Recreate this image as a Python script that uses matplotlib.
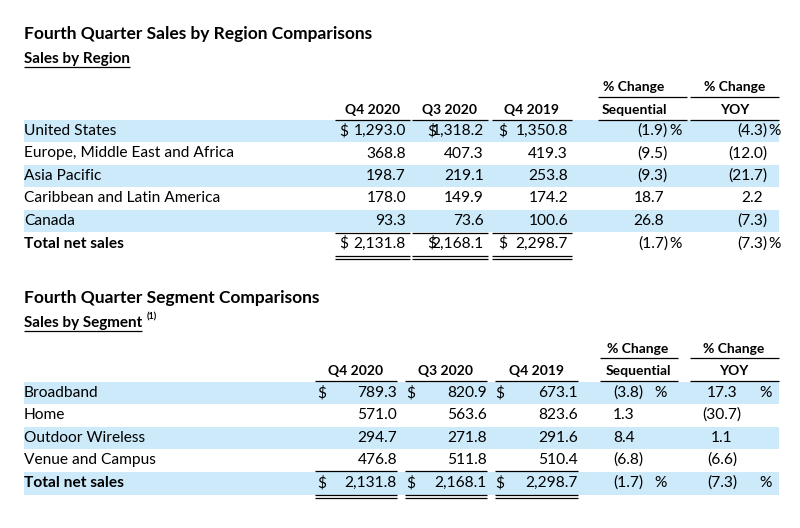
import matplotlib
matplotlib.use("Agg")
import matplotlib.pyplot as plt
from matplotlib.patches import Rectangle

plt.rcParams['font.family'] = ['Lato', 'DejaVu Sans']

# ---- data ----
region_names = ["United States", "Europe, Middle East and Africa", "Asia Pacific",
                "Caribbean and Latin America", "Canada"]
region_q4_2020 = ["1,293.0", "368.8", "198.7", "178.0", "93.3"]
region_q3_2020 = ["1,318.2", "407.3", "219.1", "149.9", "73.6"]
region_q4_2019 = ["1,350.8", "419.3", "253.8", "174.2", "100.6"]
region_seq = ["(1.9)", "(9.5)", "(9.3)", "18.7", "26.8"]
region_yoy = ["(4.3)", "(12.0)", "(21.7)", "2.2", "(7.3)"]
region_total = ["2,131.8", "2,168.1", "2,298.7", "(1.7)", "(7.3)"]

segment_names = ["Broadband", "Home", "Outdoor Wireless", "Venue and Campus"]
segment_q4_2020 = ["789.3", "571.0", "294.7", "476.8"]
segment_q3_2020 = ["820.9", "563.6", "271.8", "511.8"]
segment_q4_2019 = ["673.1", "823.6", "291.6", "510.4"]
segment_seq = ["(3.8)", "1.3", "8.4", "(6.8)"]
segment_yoy = ["17.3", "(30.7)", "1.1", "(6.6)"]
segment_total = ["2,131.8", "2,168.1", "2,298.7", "(1.7)", "(7.3)"]

col_heads = ["Q4 2020", "Q3 2020", "Q4 2019"]

BLUE = "#cdeafa"
FS = 11.2

fig = plt.figure(figsize=(8, 5.28), dpi=100)
ax = fig.add_axes([0, 0, 1, 1])
ax.set_xlim(0, 800)
ax.set_ylim(528, 0)
ax.axis("off")
renderer = fig.canvas.get_renderer()


def t(x, y, s, ha="left", bold=False, size=FS):
    return ax.text(x, y, s, ha=ha, va="center", fontsize=size,
                   fontweight="bold" if bold else "normal", color="black")


def hline(x0, x1, y, lw=0.9):
    ax.plot([x0, x1], [y, y], color="black", lw=lw, solid_capstyle="butt")


def text_right(txt):
    bb = txt.get_window_extent(renderer)
    return ax.transData.inverted().transform((bb.x1, bb.y0))[0]


def shade(y, h=22):
    ax.add_patch(Rectangle((24, y - h / 2), 755, h, color=BLUE, lw=0, zorder=0))


# ---------------- Region table ----------------
t(24, 34, "Fourth Quarter Sales by Region Comparisons", bold=True, size=12.5)
sub = t(24, 59, "Sales by Region", bold=True, size=11)
hline(24, text_right(sub), 67)

num_right = [406, 484, 568]
dollar_x = [339, 427, 498]
head_span = [(335, 410), (412, 488), (492, 572)]
for (a, b), h in zip(head_span, col_heads):
    t((a + b) / 2, 110, h, ha="center", bold=True, size=10)
    hline(a, b, 120)
t(634, 87, "% Change", ha="center", bold=True, size=10)
hline(598, 687, 97)
t(634, 110, "Sequential", ha="center", bold=True, size=10)
hline(598, 687, 120)
t(735, 87, "% Change", ha="center", bold=True, size=10)
hline(690, 779, 97)
t(735, 110, "YOY", ha="center", bold=True, size=10)
hline(690, 779, 120)

row_y = [131, 153.5, 176, 198.5, 221]
for i, y in enumerate(row_y):
    if i % 2 == 0:
        shade(y)
    t(24, y, region_names[i])
    for c, vals in enumerate([region_q4_2020, region_q3_2020, region_q4_2019]):
        t(num_right[c], y, vals[i], ha="right")
        if i == 0:
            t(dollar_x[c], y, "$")
    s = region_seq[i]
    t(668 if s.startswith("(") else 664, y, s, ha="right")
    s = region_yoy[i]
    t(767 if s.startswith("(") else 763, y, s, ha="right")
    if i == 0:
        t(669, y, "%")
        t(768, y, "%")

ty = 243.5
for a, b in head_span:
    hline(a, b, 233)
    hline(a, b, 256)
    hline(a, b, 259)
t(24, ty, "Total net sales", bold=True)
for c in range(3):
    t(num_right[c], ty, region_total[c], ha="right")
    t(dollar_x[c], ty, "$")
t(668, ty, region_total[3], ha="right")
t(669, ty, "%")
t(767, ty, region_total[4], ha="right")
t(768, ty, "%")

# ---------------- Segment table ----------------
t(24, 298, "Fourth Quarter Segment Comparisons", bold=True, size=12.5)
sub2 = t(24, 323, "Sales by Segment", bold=True, size=11)
r2 = text_right(sub2)
hline(24, r2, 331)
t(r2 + 4, 317, "(1)", bold=True, size=6.5)

num_right2 = [397, 487, 578]
dollar_x2 = [317, 406, 495]
head_span2 = [(315, 397), (405, 487), (495, 578)]
for (a, b), h in zip(head_span2, col_heads):
    t((a + b) / 2, 371, h, ha="center", bold=True, size=10)
    hline(a, b, 381)
t(638, 349, "% Change", ha="center", bold=True, size=10)
hline(600, 678, 358)
t(638, 371, "Sequential", ha="center", bold=True, size=10)
hline(600, 678, 381)
t(734, 349, "% Change", ha="center", bold=True, size=10)
hline(690, 779, 358)
t(734, 371, "YOY", ha="center", bold=True, size=10)
hline(690, 779, 381)

row_y2 = [393, 415, 438, 460]
for i, y in enumerate(row_y2):
    if i % 2 == 0:
        shade(y)
    t(24, y, segment_names[i])
    for c, vals in enumerate([segment_q4_2020, segment_q3_2020, segment_q4_2019]):
        t(num_right2[c], y, vals[i], ha="right")
        if i == 0:
            t(dollar_x2[c], y, "$")
    t(613, y, segment_seq[i])
    t(722, y, segment_yoy[i], ha="center")
    if i == 0:
        t(654, y, "%")
        t(759, y, "%")

ty2 = 483
shade(ty2, 23)
for a, b in head_span2:
    hline(a, b, 471)
    hline(a, b, 495)
    hline(a, b, 498)
t(24, ty2, "Total net sales", bold=True)
for c in range(3):
    t(num_right2[c], ty2, segment_total[c], ha="right")
    t(dollar_x2[c], ty2, "$")
t(613, ty2, segment_total[3])
t(654, ty2, "%")
t(722, ty2, segment_total[4], ha="center")
t(759, ty2, "%")

fig.savefig("out.png", dpi=100)
plt.close(fig)
